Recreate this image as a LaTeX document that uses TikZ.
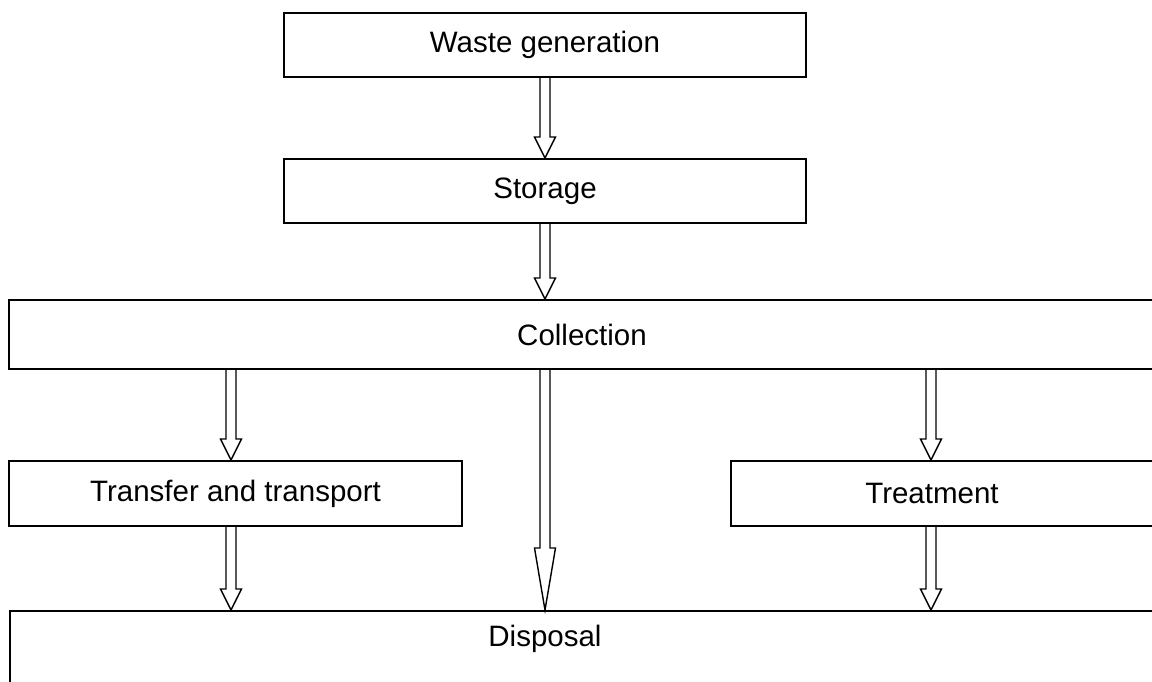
\documentclass[tikz,border=0pt]{standalone}
\usepackage{fontspec}
\setmainfont{Liberation Sans}
\usetikzlibrary{calc}

% hollow block arrow: #1 start, #2 tip, #3 head length
\newcommand\blockarrow[3]{%
  \draw[flow] ($(#1)+(-5,0)$) -- ($(#2)+(-5,-#3)$) -- ($(#2)+(-10.5,-#3)$)
    -- (#2) -- ($(#2)+(10.5,-#3)$) -- ($(#2)+(5,-#3)$) -- ($(#1)+(5,0)$);
}

\begin{document}
\begin{tikzpicture}[x=1pt,y=-1pt,
  stage/.style={draw,line width=2pt,inner sep=0pt,
    font=\fontsize{29.5}{35}\selectfont},
  caption/.style={inner sep=0pt,font=\fontsize{29.5}{35}\selectfont},
  flow/.style={draw,line width=1.4pt,line join=miter}]
\useasboundingbox (0,0) rectangle (1152,682);
\clip (0,0) rectangle (1152,682);

% process stages
\node[stage,minimum width=522,minimum height=64] (gen) at (545,45) {Waste generation};
\node[stage,minimum width=522,minimum height=64] (sto) at (545,191) {Storage};
\node[stage,minimum width=1146,minimum height=69] (col) at (582,334.5) {Collection};
\node[stage,minimum width=453,minimum height=65] (tra) at (235.5,493.5) {Transfer and transport};
\node[stage,minimum width=440,minimum height=65,anchor=north west] (trt) at (730,460) {};
\node[caption] (trttext) at (932,493) {Treatment};
\node[stage,minimum width=1151,minimum height=110,anchor=north west] (dis) at (9,610) {};
\node[caption] (distext) at (545,639) {Disposal};

% arrow columns
\coordinate (xm) at (545,0);
\coordinate (xl) at (231,0);
\coordinate (xr) at (931,0);

\coordinate (a1s) at (gen.south);
\coordinate (a1e) at (sto.north);
\coordinate (a2s) at (sto.south);
\coordinate (a2e) at (col.north -| xm);
\coordinate (a3s) at (col.south -| xl);
\coordinate (a3e) at (tra.north -| xl);
\coordinate (a4s) at (col.south -| xm);
\coordinate (a4e) at (dis.north -| xm);
\coordinate (a5s) at (col.south -| xr);
\coordinate (a5e) at (trt.north -| xr);
\coordinate (a6s) at (tra.south -| xl);
\coordinate (a6e) at (dis.north -| xl);
\coordinate (a7s) at (trt.south -| xr);
\coordinate (a7e) at (dis.north -| xr);

\blockarrow{a1s}{a1e}{21}
\blockarrow{a2s}{a2e}{21}
\blockarrow{a3s}{a3e}{21}
\blockarrow{a4s}{a4e}{62}
\blockarrow{a5s}{a5e}{21}
\blockarrow{a6s}{a6e}{21}
\blockarrow{a7s}{a7e}{21}
\end{tikzpicture}
\end{document}
